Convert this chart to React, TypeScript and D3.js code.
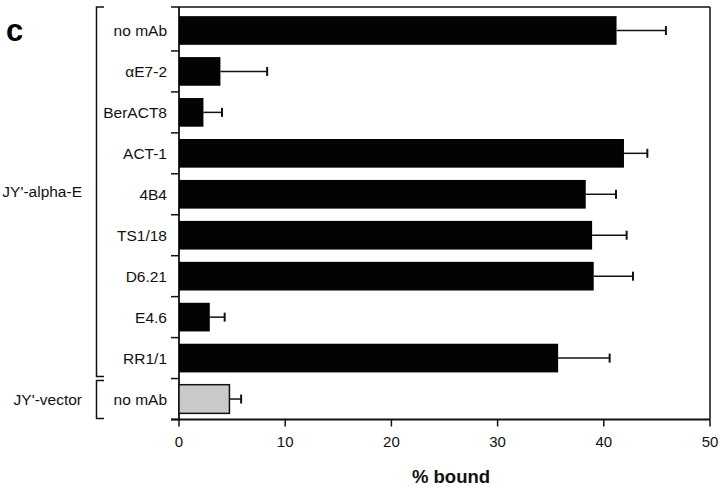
import React from "react";
import * as d3 from "d3";

const categories = ["no mAb", "αE7-2", "BerACT8", "ACT-1", "4B4", "TS1/18", "D6.21", "E4.6", "RR1/1", "no mAb"];
const groups = ["JY'-alpha-E", "JY'-alpha-E", "JY'-alpha-E", "JY'-alpha-E", "JY'-alpha-E", "JY'-alpha-E", "JY'-alpha-E", "JY'-alpha-E", "JY'-alpha-E", "JY'-vector"];
const values = [41.2, 3.9, 2.3, 41.9, 38.3, 38.9, 39.05, 2.9, 35.7, 4.75];
const errors = [4.65, 4.4, 1.75, 2.2, 2.85, 3.25, 3.7, 1.4, 4.85, 1.1];
const xTicks = [0, 10, 20, 30, 40, 50];
const xLabel = "% bound";
const panelLabel = "c";

const W = 720;
const H = 488;
const left = 179;
const right = 710;
const top = 7;
const bandTop = 10;
const bottom = 419.5;
const FONT = "'Liberation Sans', Arial, Helvetica, sans-serif";

export default function App() {
  const x = d3.scaleLinear().domain([0, 50]).range([left, right]);
  const idx = categories.map((_, i) => String(i));
  const y = d3.scaleBand<string>().domain(idx).range([bandTop, bottom]).paddingInner(0.3).paddingOuter(0.15);
  const step = y.step();
  const boundary = (i: number) => (i === 0 ? top : bandTop + i * step);

  const groupNames = Array.from(new Set(groups));
  const groupSpans = groupNames.map((g) => {
    const ids = groups.map((gg, i) => (gg === g ? i : -1)).filter((i) => i >= 0);
    const first = ids[0];
    const last = ids[ids.length - 1];
    return { name: g, y0: boundary(first) + (first === 0 ? 0 : 2), y1: last === categories.length - 1 ? bottom - 1 : boundary(last + 1) - 2 };
  });

  return (
    <svg width={W} height={H} style={{ position: "absolute", left: 0, top: 0, background: "#fff" }} fontFamily={FONT}>
      <rect x={0} y={0} width={W} height={H} fill="#fff" />
      <text x={6} y={41} fontSize={31} fontWeight="bold" fill="#000">{panelLabel}</text>

      {/* frame */}
      <line x1={left} x2={right} y1={top} y2={top} stroke="#111" strokeWidth={1.5} />
      <line x1={right} x2={right} y1={top} y2={bottom} stroke="#111" strokeWidth={1.5} />
      <line x1={left} x2={left} y1={top} y2={bottom} stroke="#111" strokeWidth={1.8} />
      <line x1={left - 8} x2={right} y1={bottom} y2={bottom} stroke="#111" strokeWidth={1.8} />

      {/* left boundary ticks */}
      {d3.range(categories.length + 1).map((i) => (
        <line key={"lt" + i} x1={left - 8} x2={left} y1={i === categories.length ? bottom : boundary(i)} y2={i === categories.length ? bottom : boundary(i)} stroke="#111" strokeWidth={1.5} />
      ))}

      {/* x ticks */}
      {xTicks.map((t) => (
        <g key={"xt" + t}>
          <line x1={x(t)} x2={x(t)} y1={bottom} y2={bottom + 7} stroke="#111" strokeWidth={1.5} />
          <text x={x(t)} y={447} fontSize={15} textAnchor="middle" fill="#111">{t}</text>
        </g>
      ))}
      <text x={451} y={483} fontSize={18.5} fontWeight="bold" textAnchor="middle" fill="#111">{xLabel}</text>

      {/* bars */}
      {categories.map((c, i) => {
        const yy = y(String(i))!;
        const bw = y.bandwidth();
        const cy = yy + bw / 2;
        const isVector = groups[i] === "JY'-vector";
        const x1 = x(values[i]);
        const x2 = x(values[i] + errors[i]);
        return (
          <g key={"b" + i}>
            <line x1={x1} x2={x2} y1={cy} y2={cy} stroke="#111" strokeWidth={1.5} />
            <line x1={x2} x2={x2} y1={cy - 4.5} y2={cy + 4.5} stroke="#111" strokeWidth={2} />
            {isVector ? (
              <rect x={x(0)} y={yy} width={x1 - x(0)} height={bw} fill="#c9c9c9" stroke="#111" strokeWidth={1.5} />
            ) : (
              <rect x={x(0)} y={yy} width={x1 - x(0)} height={bw} fill="#030303" />
            )}
            <text x={167} y={cy + 5.5} fontSize={15.5} textAnchor="end" fill="#111">{c}</text>
          </g>
        );
      })}

      {/* group brackets */}
      {groupSpans.map((g) => (
        <g key={"g" + g.name}>
          <path d={`M${104},${g.y0} H${96.5} V${g.y1} H${104}`} fill="none" stroke="#111" strokeWidth={1.5} />
          <text x={82} y={(g.y0 + g.y1) / 2 + 5.5} fontSize={15.5} textAnchor="end" fill="#111">{g.name}</text>
        </g>
      ))}
    </svg>
  );
}
